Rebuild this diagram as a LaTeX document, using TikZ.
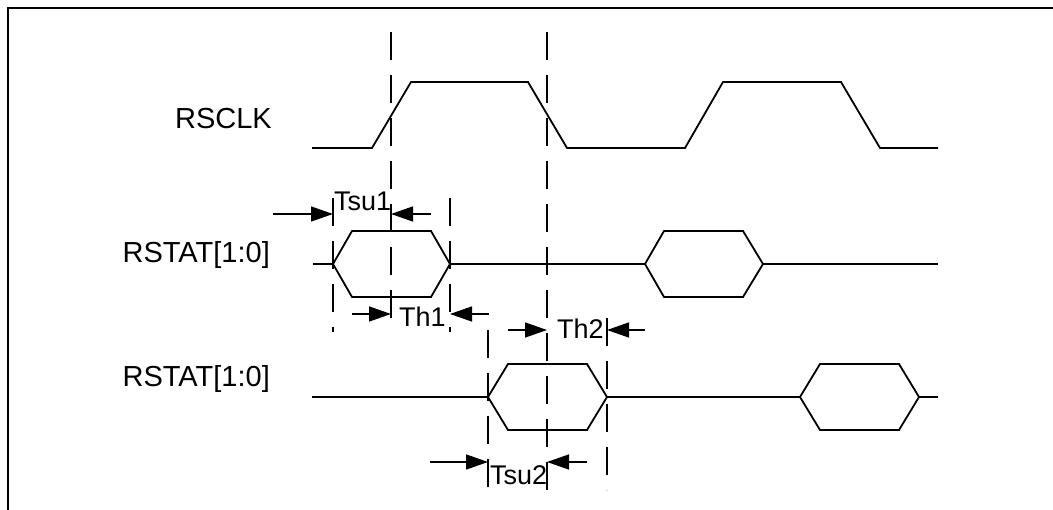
\documentclass[tikz,border=0pt]{standalone}
\usepackage{fontspec}
\setmainfont{Liberation Sans}
\usetikzlibrary{arrows.meta}
\begin{document}
\begin{tikzpicture}[x=1pt,y=-1pt,
  sig/.style={line width=1.8pt, line join=miter},
  guide/.style={line width=1.6pt, dash pattern=on 28pt off 15pt},
  frame/.style={line width=2.4pt},
  dim/.style={line width=1.4pt, -{Triangle[length=22pt,width=15pt]}},
  siglabel/.style={font=\fontsize{29}{29}\selectfont, inner sep=0pt, anchor=base east},
  tlabel/.style={font=\fontsize{27}{27}\selectfont, inner sep=0pt, anchor=base west}]
\useasboundingbox (0,0) rectangle (1053,510);
% frame
\draw[frame] (8,510) -- (8,8) -- (1053,8);
% labels
\node[siglabel] (lclk) at (272,129) {RSCLK};
\node[siglabel] (lst1) at (270,263) {RSTAT[1:0]};
\node[siglabel] (lst2) at (270,387) {RSTAT[1:0]};
% RSCLK
\draw[sig] (312,148) -- (372,148) -- (411,82) -- (528,82) -- (567,148) -- (685,148) -- (723,82) -- (841,82) -- (880,148) -- (938,148);
% RSTAT row 1
\draw[sig] (313,264) -- (333,264);
\draw[sig] (333,264) -- (352,231) -- (431,231) -- (450,264) -- (431,297) -- (352,297) -- cycle;
\draw[sig] (450,264) -- (645,264);
\draw[sig] (645,264) -- (664,231) -- (743,231) -- (763,264) -- (743,297) -- (664,297) -- cycle;
\draw[sig] (763,264) -- (938,264);
% RSTAT row 2
\draw[sig] (312,397) -- (488,397);
\draw[sig] (488,397) -- (508,364) -- (587,364) -- (607,397) -- (587,430) -- (508,430) -- cycle;
\draw[sig] (607,397) -- (800,397);
\draw[sig] (800,397) -- (820,364) -- (899,364) -- (919,397) -- (899,430) -- (820,430) -- cycle;
\draw[sig] (919,397) -- (938,397);
% guide lines
\coordinate (g1t) at (391,32);  \coordinate (g1b) at (391,318);
\coordinate (g2t) at (547,32);  \coordinate (g2b) at (547,490);
\coordinate (g3t) at (333,198); \coordinate (g3b) at (333,332);
\coordinate (g4t) at (450,198); \coordinate (g4b) at (450,332);
\coordinate (g5t) at (488,330); \coordinate (g5b) at (488,490);
\coordinate (g6t) at (607,318); \coordinate (g6b) at (607,490);
\draw[guide] (g1t) -- (g1b);
\draw[guide] (g2t) -- (g2b);
\draw[guide] (g3t) -- (g3b);
\draw[guide] (g4t) -- (g4b);
\draw[guide] (g5t) -- (g5b);
\draw[guide] (g6t) -- (g6b);
% timing arrows
\coordinate (a1s) at (273,214); \coordinate (a1e) at (333,214);
\coordinate (a2s) at (431,214); \coordinate (a2e) at (391,214);
\coordinate (b1s) at (352,314); \coordinate (b1e) at (391,314);
\coordinate (b2s) at (489,314); \coordinate (b2e) at (450,314);
\coordinate (c1s) at (508,330); \coordinate (c1e) at (547,330);
\coordinate (c2s) at (645,330); \coordinate (c2e) at (607,330);
\coordinate (d1s) at (430,462); \coordinate (d1e) at (488,462);
\coordinate (d2s) at (587,462); \coordinate (d2e) at (547,462);
\draw[dim] (a1s) -- (a1e);
\draw[dim] (a2s) -- (a2e);
\draw[dim] (b1s) -- (b1e);
\draw[dim] (b2s) -- (b2e);
\draw[dim] (c1s) -- (c1e);
\draw[dim] (c2s) -- (c2e);
\draw[dim] (d1s) -- (d1e);
\draw[dim] (d2s) -- (d2e);
% timing labels
\node[tlabel] (tsu1) at (334,211) {Tsu1};
\node[tlabel] (th1) at (399,327) {Th1};
\node[tlabel] (th2) at (557,339) {Th2};
\node[tlabel] (tsu2) at (490,485) {Tsu2};
\end{tikzpicture}
\end{document}
